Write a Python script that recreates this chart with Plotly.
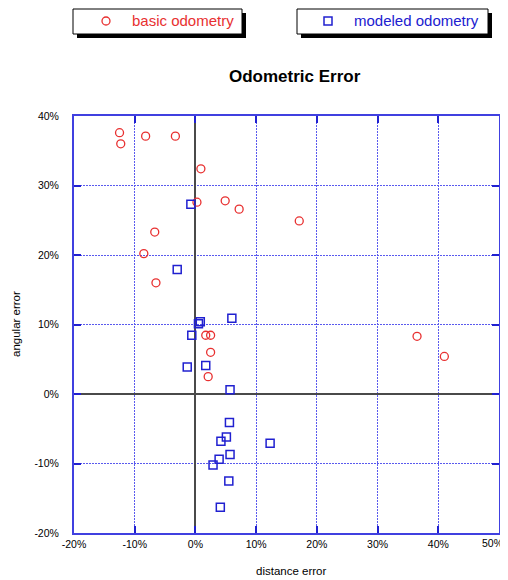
import plotly.graph_objects as go

basic_x = [-12.5, -12.3, -8.2, -3.3, 0.9, 0.25, 4.9, 7.2, 17.1, -6.7, -8.5, -6.5, 36.5, 41.0, 1.7, 2.5, 2.5, 2.1]
basic_y = [37.6, 36.0, 37.1, 37.1, 32.4, 27.6, 27.8, 26.6, 24.9, 23.3, 20.2, 16.0, 8.3, 5.4, 8.45, 8.45, 6.0, 2.5]

model_x = [-0.75, -3.0, 0.8, 0.5, 6.0, -0.6, -1.35, 1.7, 5.7, 5.6, 5.1, 4.2, 12.3, 5.7, 3.9, 2.9, 5.5, 4.1]
model_y = [27.3, 17.9, 10.4, 10.1, 10.9, 8.45, 3.9, 4.1, 0.6, -4.1, -6.2, -6.8, -7.1, -8.7, -9.4, -10.2, -12.5, -16.3]

x_ticks = [-20, -10, 0, 10, 20, 30, 40, 50]
y_ticks = [-20, -10, 0, 10, 20, 30, 40]

# page body has an 8px margin; figure is drawn offset by 8px
OFF = 8
W, H = 508 - OFF, 580 - OFF
L = 74 - OFF
R = 9
T = 116 - OFF
B = H - (533 - OFF)
PW, PH = W - L - R, H - T - B

RED = "#e83030"
BLUE = "#2020d0"

def px(x):
    return (x - OFF - L) / PW

def py(y):
    return (H - B - (y - OFF)) / PH

FONT = "Liberation Sans, Arial, sans-serif"

fig = go.Figure()
fig.add_trace(go.Scatter(
    x=basic_x, y=basic_y, mode="markers", name="basic odometry",
    marker=dict(symbol="circle-open", size=8, color=RED, line=dict(width=1.3)),
    cliponaxis=False))
fig.add_trace(go.Scatter(
    x=model_x, y=model_y, mode="markers", name="modeled odometry",
    marker=dict(symbol="square-open", size=8, color=BLUE, line=dict(width=1.5)),
    cliponaxis=False))

shapes = []
for (x0, x1) in [(73, 242), (297, 488)]:
    shapes.append(dict(type="rect", xref="paper", yref="paper",
                       x0=px(x0 + 4), x1=px(x1 + 4), y0=py(38), y1=py(13),
                       fillcolor="black", line=dict(width=0), layer="above"))
    shapes.append(dict(type="rect", xref="paper", yref="paper",
                       x0=px(x0), x1=px(x1), y0=py(34), y1=py(9),
                       fillcolor="white", line=dict(color="black", width=1), layer="above"))
# legend symbols
shapes.append(dict(type="circle", xref="paper", yref="paper",
                   x0=px(102), x1=px(110), y0=py(25), y1=py(17),
                   line=dict(color=RED, width=1.3), layer="above"))
shapes.append(dict(type="rect", xref="paper", yref="paper",
                   x0=px(324), x1=px(332), y0=py(25), y1=py(17),
                   line=dict(color=BLUE, width=1.5), layer="above"))

x_ticktext = [f"{v}%" for v in x_ticks]
last_label = x_ticktext[-1]
x_ticktext[-1] = ""

annotations = [
    dict(text="basic odometry", xref="paper", yref="paper", x=px(130), y=py(20),
         xanchor="left", yanchor="middle", showarrow=False,
         font=dict(family=FONT, size=15, color=RED)),
    dict(text="modeled odometry", xref="paper", yref="paper", x=px(352), y=py(20),
         xanchor="left", yanchor="middle", showarrow=False,
         font=dict(family=FONT, size=15, color=BLUE)),
    dict(text="<b>Odometric Error</b>", xref="paper", yref="paper", x=px(295), y=py(77),
         xanchor="center", yanchor="middle", showarrow=False,
         font=dict(family=FONT, size=17, color="black")),
    dict(text="distance error", xref="paper", yref="paper", x=px(291), y=py(571),
         xanchor="center", yanchor="middle", showarrow=False,
         font=dict(family=FONT, size=11.5, color="black")),
    dict(text="angular error", xref="paper", yref="paper", x=px(16), y=py(324),
         xanchor="center", yanchor="middle", showarrow=False, textangle=-90,
         font=dict(family=FONT, size=11.5, color="black")),
    dict(text=last_label, xref="x", yref="paper", x=x_ticks[-1], y=py(543),
         xanchor="right", yanchor="middle", xshift=5, showarrow=False,
         borderpad=0, font=dict(family=FONT, size=10.5, color="black")),
]

fig.update_layout(
    width=W, height=H,
    margin=dict(l=L, r=R, t=T, b=B, autoexpand=False),
    paper_bgcolor="white", plot_bgcolor="white",
    font=dict(family=FONT, size=11, color="black"),
    shapes=shapes, annotations=annotations,
    showlegend=False,
)

GRID = "#5a5aee"
fig.update_xaxes(
    range=[-20, 50], tickvals=x_ticks, ticktext=x_ticktext,
    showgrid=True, gridcolor=GRID, griddash="2px,1px", gridwidth=1,
    zeroline=True, zerolinecolor="#4a4a4a", zerolinewidth=2,
    showline=True, linecolor="#4040e0", linewidth=2, mirror="ticks",
    ticks="inside", ticklen=7, tickcolor=BLUE, tickwidth=2,
    tickfont=dict(family=FONT, size=10.5, color="black"),
    ticklabelstandoff=0, automargin=False, ticklabeloverflow="allow",
)
fig.update_yaxes(
    range=[-20, 40], tickvals=y_ticks, ticktext=[f"{v}%" for v in y_ticks],
    showgrid=True, gridcolor=GRID, griddash="2px,1px", gridwidth=1,
    zeroline=True, zerolinecolor="#4a4a4a", zerolinewidth=2,
    showline=True, linecolor="#4040e0", linewidth=2, mirror="ticks",
    ticks="inside", ticklen=7, tickcolor=BLUE, tickwidth=2,
    tickfont=dict(family=FONT, size=10.5, color="black"),
    ticklabelstandoff=11, automargin=False, ticklabeloverflow="allow",
)

fig.write_html("out.html")
